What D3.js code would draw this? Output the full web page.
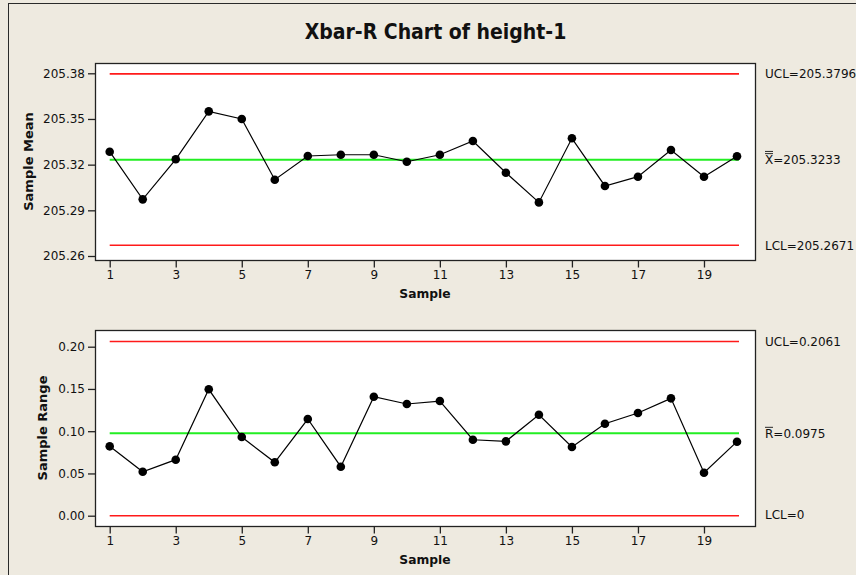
<!DOCTYPE html>
<html><head><meta charset="utf-8">
<script src="https://cdn.jsdelivr.net/npm/d3@7"></script>
<style>
html,body{margin:0;padding:0;background:#EEEAE0;}
svg{display:block;}
text{font-family:"DejaVu Sans",Verdana,sans-serif;fill:#111;}
</style></head>
<body>
<svg id="c" width="856" height="575"></svg>
<script>
const samples = d3.range(1, 21);
const sampleMeans = [205.3285,205.2972,205.3235,205.3550,205.3500,205.3101,205.3257,205.3265,205.3265,205.3219,
                     205.3265,205.3355,205.3147,205.2952,205.3373,205.3060,205.3121,205.3296,205.3121,205.3255];
const sampleRanges = [0.0821,0.0520,0.0663,0.1496,0.0931,0.0632,0.1144,0.0580,0.1408,0.1322,
                      0.1357,0.0899,0.0880,0.1195,0.0813,0.1089,0.1215,0.1389,0.0509,0.0876];
const meanLimits = {ucl:205.3796, center:205.3233, lcl:205.2671};
const rangeLimits = {ucl:0.2061, center:0.0975, lcl:0};
const meanTicks = [205.26,205.29,205.32,205.35,205.38];
const rangeTicks = [0,0.05,0.10,0.15,0.20];
const xTicks = [1,3,5,7,9,11,13,15,17,19];
const title = "Xbar-R Chart of height-1";

const svg = d3.select("#c");
svg.append("rect").attr("x",0).attr("y",0).attr("width",856).attr("height",575).attr("fill","#EEEAE0");
svg.append("rect").attr("x",8.5).attr("y",3.5).attr("width",900).attr("height",700)
   .attr("fill","none").attr("stroke","#2a2a2a").attr("stroke-width",1);

svg.append("text").attr("x",435.5).attr("y",38.5).attr("text-anchor","middle")
  .style("font-family","'DejaVu Sans Condensed','DejaVu Sans',sans-serif")
  .style("font-weight","bold").style("font-size","21px").text(title);

const boxL = 95, boxR = 755;
const x = d3.scaleLinear().domain([1,20]).range([109.7,737]);

function panel(cfg){
  const g = svg.append("g");
  const y = d3.scaleLinear().domain(cfg.domain).range(cfg.range);
  g.append("rect").attr("x",boxL+0.5).attr("y",cfg.top+0.5).attr("width",boxR-boxL).attr("height",cfg.bottom-cfg.top)
    .attr("fill","#fff").attr("stroke","#222").attr("stroke-width",1.3);
  const ya = g.append("g").attr("transform",`translate(${boxL},0)`)
    .call(d3.axisLeft(y).tickValues(cfg.ticks).tickFormat(d3.format(".2f")).tickSize(7).tickPadding(3));
  ya.select(".domain").remove();
  ya.selectAll("line").attr("stroke","#222").attr("stroke-width",1.3);
  ya.selectAll("text").style("font-size","12px").style("font-family","'DejaVu Sans',sans-serif").attr("fill","#111");
  const xa = g.append("g").attr("transform",`translate(0,${cfg.bottom+0.5})`)
    .call(d3.axisBottom(x).tickValues(xTicks).tickFormat(d3.format("d")).tickSize(7).tickPadding(3));
  xa.select(".domain").remove();
  xa.selectAll("line").attr("stroke","#222").attr("stroke-width",1.3);
  xa.selectAll("text").style("font-size","12px").style("font-family","'DejaVu Sans',sans-serif").attr("fill","#111");
  g.append("text").attr("x",425).attr("y",cfg.bottom+38).attr("text-anchor","middle")
    .style("font-weight","bold").style("font-size","12.3px").text("Sample");
  g.append("text").attr("transform",`translate(${cfg.ytitleX},${(cfg.top+cfg.bottom)/2}) rotate(-90)`)
    .attr("text-anchor","middle").style("font-weight","bold").style("font-size","13px").text(cfg.ytitle);
  const lims = [[cfg.lim.ucl,"#ff1a1a",1.6],[cfg.lim.center,"#22ee22",2],[cfg.lim.lcl,"#ff1a1a",1.6]];
  lims.forEach(([v,c,w])=>{
    g.append("line").attr("x1",x(1)).attr("x2",x(20)+2).attr("y1",y(v)).attr("y2",y(v))
      .attr("stroke",c).attr("stroke-width",w);
  });
  g.append("path").datum(cfg.values)
    .attr("d",d3.line().x((d,i)=>x(samples[i])).y(d=>y(d)))
    .attr("fill","none").attr("stroke","#000").attr("stroke-width",1.2);
  g.selectAll("circle.pt").data(cfg.values).enter().append("circle")
    .attr("cx",(d,i)=>x(samples[i])).attr("cy",d=>y(d)).attr("r",4.3).attr("fill","#000");
  const lx = 765;
  g.append("text").attr("x",lx).attr("y",y(cfg.lim.ucl)+4.5).style("font-size","12px").text(cfg.labels[0]);
  g.append("text").attr("x",lx).attr("y",y(cfg.lim.center)+4.5).style("font-size","12px").text(cfg.labels[1]);
  g.append("text").attr("x",lx).attr("y",Math.min(y(cfg.lim.lcl),cfg.bottom-12)+4.5).style("font-size","12px").text(cfg.labels[2]);
  const by = y(cfg.lim.center)+4.5;
  for(let k=0;k<cfg.bars;k++){
    g.append("line").attr("x1",lx).attr("x2",lx+8).attr("y1",by-10.5-k*2.2).attr("y2",by-10.5-k*2.2)
      .attr("stroke","#111").attr("stroke-width",0.9);
  }
}

panel({top:63, bottom:260, domain:[205.26,205.38], range:[256,73.3], ticks:meanTicks,
  values:sampleMeans, lim:meanLimits, ytitle:"Sample Mean", ytitleX:33, bars:2,
  labels:["UCL=205.3796","X=205.3233","LCL=205.2671"]});
panel({top:330, bottom:526, domain:[0,0.20], range:[515.7,346.7], ticks:rangeTicks,
  values:sampleRanges, lim:rangeLimits, ytitle:"Sample Range", ytitleX:47, bars:1,
  labels:["UCL=0.2061","R=0.0975","LCL=0"]});
</script>
</body></html>
